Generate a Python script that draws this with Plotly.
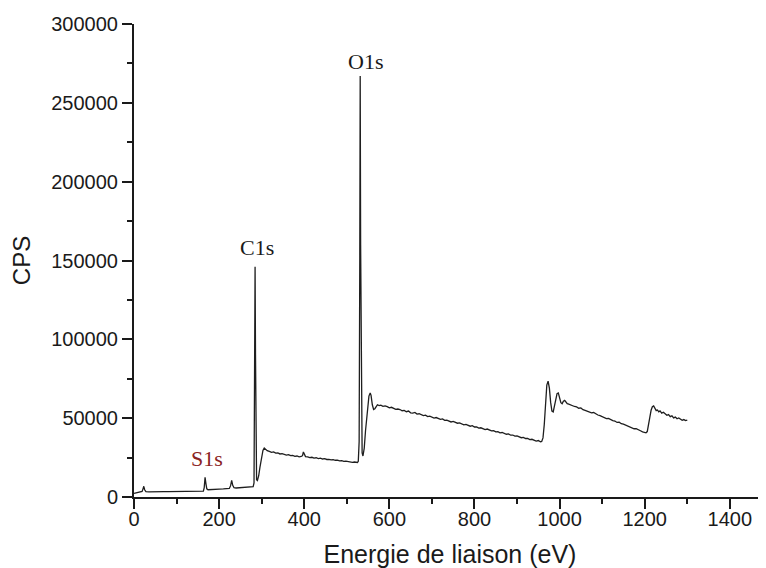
import plotly.graph_objects as go

# ---- Data (binding energy in eV, intensity in CPS) ----
ev_low = [0, 5, 10, 15, 19, 21, 23, 25, 28, 35, 40, 50, 60, 70, 80, 90, 100, 110, 120,
          130, 140, 150, 158, 163, 165, 167, 169, 171, 174, 180, 190, 200, 210, 218,
          224, 227, 229.5, 232, 235, 240, 250, 260, 270, 278]
cps_low = [2300, 2600, 2900, 3100, 3500, 5000, 6800, 4600, 3400, 3200, 3300, 3400, 3300,
           3450, 3350, 3400, 3350, 3450, 3400, 3500, 3450, 3550, 3500, 3700, 6000, 12500,
           8500, 5200, 4600, 4800, 4900, 5000, 5100, 5200, 5400, 7200, 10500, 7400, 5900,
           5700, 5800, 6000, 6100, 6300]

ev_c1s = [280, 282, 283.5, 284.5, 285.5, 286.5, 288, 290, 293, 296, 300, 303, 306, 309,
          313, 318, 323, 328, 333, 338, 343, 348, 353, 358, 363, 368, 373, 378, 383, 388,
          393, 396, 398, 400, 403, 408, 413, 418, 423, 428, 433, 438, 443, 448, 453, 458,
          463, 468, 473, 478, 483, 488, 493, 498, 503, 508, 513, 518, 522, 525, 527]
cps_c1s = [6500, 9000, 60000, 146000, 90000, 30000, 11000, 10500, 13500, 19000, 26000,
           29500, 31000, 30200, 29400, 28900, 28300, 28600, 27800, 27900, 27300, 27500,
           26900, 26600, 26900, 26200, 26400, 25800, 26000, 25500, 25700, 26200, 28600,
           26800, 25600, 25400, 25000, 25200, 24700, 24900, 24400, 24600, 24100, 24300,
           23800, 23900, 23500, 23700, 23300, 23400, 22900, 23100, 22600, 22800, 22400,
           22500, 22000, 22200, 21800, 21900, 22600]

ev_o1s = [529, 530.5, 531.5, 532.5, 534, 536, 538, 541, 544, 548, 552, 555, 557, 560,
          563, 566, 569, 572, 576]
cps_o1s = [35000, 150000, 267000, 160000, 50000, 28000, 26000, 31000, 42000, 56000,
           64000, 66000, 64500, 58500, 55500, 56000, 57500, 58500, 58000]

ev_mid = [580, 585, 590, 595, 600, 605, 610, 615, 620, 625, 630, 635, 640, 645, 650, 655,
          660, 665, 670, 675, 680, 685, 690, 695, 700, 705, 710, 715, 720, 725, 730, 735,
          740, 745, 750, 755, 760, 765, 770, 775, 780, 785, 790, 795, 800, 805, 810, 815,
          820, 825, 830, 835, 840, 845, 850, 855, 860, 865, 870, 875, 880, 885, 890, 895,
          900, 905, 910, 915, 920, 925, 930, 935, 940, 945, 950, 955]
cps_mid = [58300, 57500, 57800, 57300, 56500, 56900, 56300, 55600, 55800, 55500, 54700,
           54900, 54100, 54500, 53400, 53200, 53600, 52600, 52800, 52400, 51600, 51900,
           51000, 51300, 50900, 50100, 50400, 49600, 49300, 49500, 48600, 48800, 48400,
           47600, 47900, 47200, 46800, 47000, 46300, 45800, 46100, 45600, 44900, 45200,
           44400, 44500, 43700, 43900, 43200, 42800, 43100, 42300, 41900, 42100, 41300,
           41500, 40700, 40900, 40100, 39800, 40000, 39200, 39300, 38600, 38700, 38000,
           37600, 37800, 37100, 37200, 36400, 36600, 35900, 35500, 35800, 35000]

ev_okll = [958, 961, 964, 967, 970, 973, 976, 979, 982, 985, 988, 991, 994, 997, 1000,
           1003, 1006, 1009, 1012, 1015, 1018]
cps_okll = [35200, 37500, 46000, 60000, 71000, 73500, 69000, 60000, 54500, 54000, 57500,
            62500, 65500, 66000, 63000, 59800, 59200, 60800, 61300, 59800, 59200]

ev_high = [1020, 1025, 1030, 1035, 1040, 1045, 1050, 1055, 1060, 1065, 1070, 1075, 1080,
           1085, 1090, 1095, 1100, 1105, 1110, 1115, 1120, 1125, 1130, 1135, 1140, 1145,
           1150, 1155, 1160, 1165, 1170, 1175, 1180, 1185, 1190, 1195, 1200]
cps_high = [59000, 58300, 58000, 57400, 57100, 56300, 56500, 55400, 55000, 54600, 54100,
            53400, 53600, 52500, 52000, 51600, 50800, 50500, 49700, 49900, 49000, 48500,
            48200, 47300, 47500, 46500, 46200, 45700, 45000, 44700, 44200, 43300, 43400,
            42500, 42000, 41300, 40900]

ev_ckll = [1203, 1206, 1209, 1212, 1215, 1218, 1221, 1224, 1227, 1230, 1233, 1236, 1240,
           1244, 1248, 1252, 1256, 1260, 1264, 1268, 1272, 1276, 1280, 1284, 1288, 1292,
           1296, 1300]
cps_ckll = [40700, 41500, 45000, 50500, 55000, 57300, 57800, 56500, 54800, 55200, 54000,
            54600, 53200, 53800, 52500, 51800, 52300, 51000, 51500, 50200, 50700, 49600,
            50100, 49200, 48600, 49100, 48500, 48800]

peak_labels = ["O1s", "C1s", "S1s"]
peak_label_ev = [543, 290, 171]
peak_label_cps = [276500, 158000, 24300]
peak_label_colors = ["#1a1a1a", "#1a1a1a", "#8b2323"]

x_ticks = [0, 200, 400, 600, 800, 1000, 1200, 1400]
y_ticks = [0, 50000, 100000, 150000, 200000, 250000, 300000]

energy = ev_low + ev_c1s + ev_o1s + ev_mid + ev_okll + ev_high + ev_ckll
cps = cps_low + cps_c1s + cps_o1s + cps_mid + cps_okll + cps_high + cps_ckll

fig = go.Figure()
fig.add_trace(go.Scatter(x=energy, y=cps, mode="lines",
                         line=dict(color="#1e1e1e", width=1.3),
                         showlegend=False, hoverinfo="x+y"))

for txt, xv, yv, col in zip(peak_labels, peak_label_ev, peak_label_cps, peak_label_colors):
    fig.add_annotation(x=xv, y=yv, text=txt, showarrow=False,
                       xanchor="center", yanchor="middle",
                       font=dict(family="Liberation Serif", size=22, color=col))

axis_common = dict(showline=True, linewidth=2, linecolor="#1a1a1a",
                   ticks="outside", ticklen=10, tickwidth=2, tickcolor="#1a1a1a",
                   showgrid=False, zeroline=False, automargin=False,
                   tickfont=dict(family="Liberation Sans", size=20, color="#1a1a1a"))

# The page body adds an 8 px offset, so the figure is sized to end at the window edge.
fig.update_layout(
    width=758, height=560,
    margin=dict(l=126, r=0, t=16, b=71),
    paper_bgcolor="white", plot_bgcolor="white",
    xaxis=dict(range=[0, 1485], tickvals=x_ticks, ticklabelstandoff=-7,
               minor=dict(ticks="outside", ticklen=5, tickwidth=2,
                          tickcolor="#1a1a1a", dtick=100, tick0=0),
               title=dict(text="Energie de liaison (eV)", standoff=17,
                          font=dict(family="Liberation Sans", size=25, color="#1a1a1a")),
               **axis_common),
    yaxis=dict(range=[0, 300000], tickvals=y_ticks, tickformat="d",
               minor=dict(ticks="outside", ticklen=5, tickwidth=2,
                          tickcolor="#1a1a1a", dtick=25000, tick0=0),
               title=dict(text="CPS", standoff=14,
                          font=dict(family="Liberation Sans", size=24, color="#1a1a1a")),
               **axis_common),
)

fig.write_html("out.html")
